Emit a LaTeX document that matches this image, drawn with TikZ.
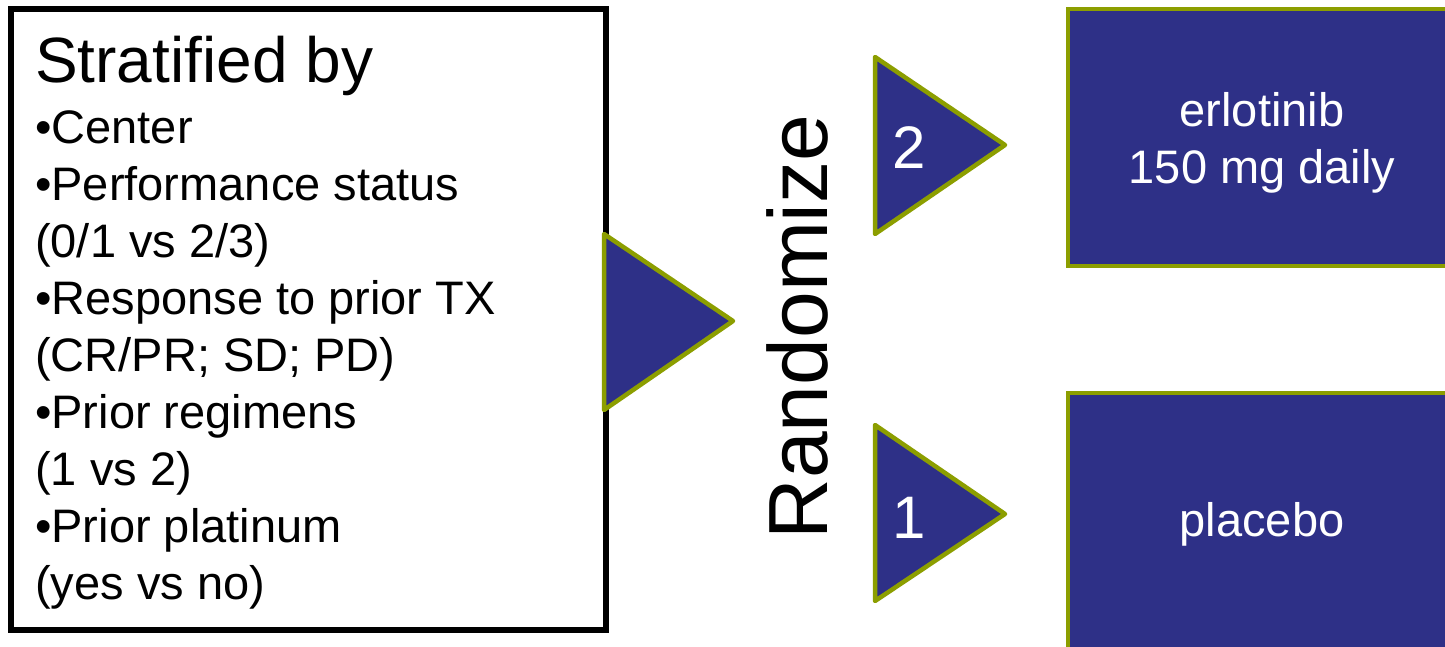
\documentclass[tikz,border=0pt]{standalone}
\usepackage{fontspec}
\setmainfont{Liberation Sans}
\definecolor{navy}{RGB}{46,48,135}
\definecolor{olivec}{RGB}{140,158,0}
\tikzset{
  blk/.style={draw=black, line width=6pt, fill=white},
  tri/.style={draw=olivec, line width=4.5pt, fill=navy, line join=round},
  arm/.style={draw=olivec, line width=4.5pt, fill=navy},
  wtxt/.style={text=white, inner sep=0pt, align=center},
  body/.style={font=\fontsize{47}{57}\selectfont},
}
\begin{document}
\begin{tikzpicture}[x=1pt, y=-1pt]
\useasboundingbox (0,0) rectangle (1445,647);
\clip (0,0) rectangle (1445,647);
% left box
\draw[blk] (11,9) rectangle (606,630);
\node[anchor=base west, inner sep=0pt, font=\fontsize{64}{70}\selectfont] (title) at (35,83) {Stratified by};
\node[anchor=north west, inner sep=0pt, align=left, body] (list) at (35,110) {•Center\\
•Performance status\\
(0/1 vs 2/3)\\
•Response to prior TX\\
(CR/PR; SD; PD)\\
•Prior regimens\\
(1 vs 2)\\
•Prior platinum\\
(yes vs no)};
% big triangle
\coordinate (bt1) at (604,234);
\coordinate (bt2) at (733,321);
\coordinate (bt3) at (604,410);
\draw[tri] (bt1) -- (bt2) -- (bt3) -- cycle;
% Randomize
\node[rotate=90, inner sep=0pt, font=\fontsize{84}{90}\selectfont] (rand) at (797,327) {Randomize};
% small triangles
\coordinate (ta1) at (875,57);
\coordinate (ta2) at (1005,145);
\coordinate (ta3) at (875,234);
\draw[tri] (ta1) -- (ta2) -- (ta3) -- cycle;
\node[wtxt, font=\fontsize{60}{66}\selectfont] (n2) at (909,148) {2};
\coordinate (tb1) at (875,425);
\coordinate (tb2) at (1005,514);
\coordinate (tb3) at (875,601);
\draw[tri] (tb1) -- (tb2) -- (tb3) -- cycle;
\node[wtxt, font=\fontsize{60}{66}\selectfont] (n1) at (909,518) {1};
% arms
\draw[arm] (1068,9) rectangle (1456,266);
\node[wtxt, body] (erl) at (1262,143) {erlotinib\\150 mg daily};
\draw[arm] (1068,393) rectangle (1456,660);
\node[wtxt, body] (plc) at (1262,524) {placebo};
\end{tikzpicture}
\end{document}
